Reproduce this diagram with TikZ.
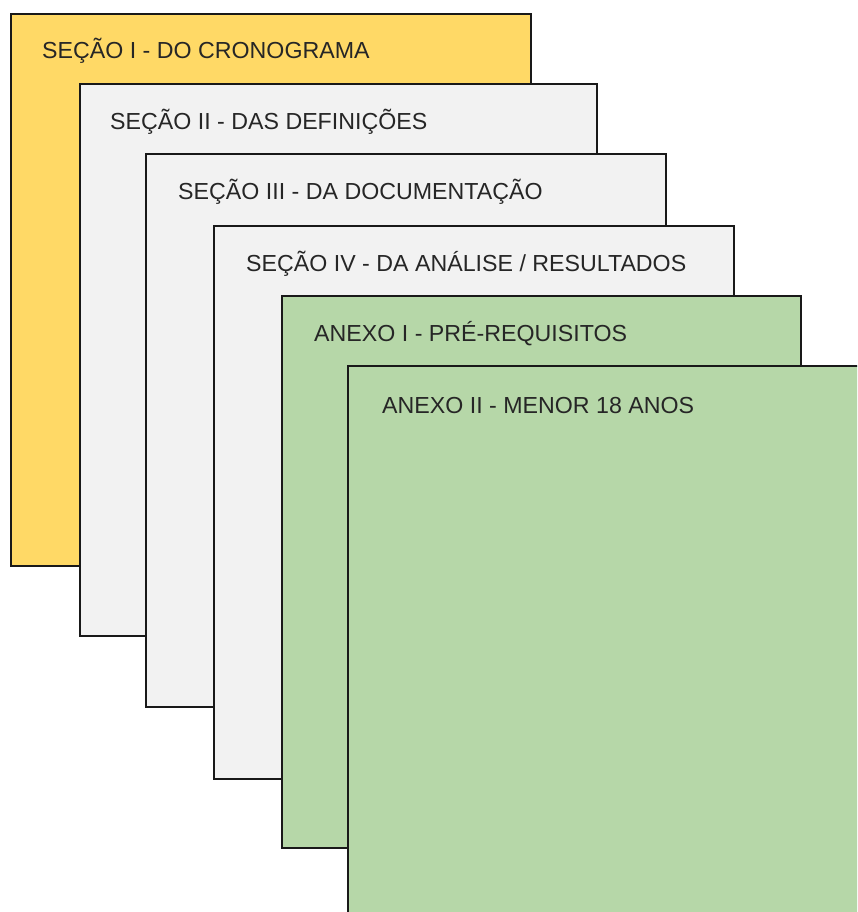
\documentclass[tikz,border=0pt]{standalone}
\usepackage{fontspec}
\setmainfont{Liberation Sans}
\definecolor{sheetyellow}{HTML}{FFD966}
\definecolor{sheetgray}{HTML}{F2F2F2}
\definecolor{sheetgreen}{HTML}{B6D7A8}
\begin{document}
\begin{tikzpicture}[x=1pt,y=-1pt,
  sheet/.style={draw=black!90, line width=1.6pt, anchor=north west, inner sep=0pt, outer sep=0pt},
  title/.style={anchor=base west, inner sep=0pt, font=\fontsize{23.2}{27}\selectfont, text=black!85}]
\useasboundingbox (0,0) rectangle (857,912);
\clip (0,0) rectangle (857,912);
\node[sheet, fill=sheetyellow, minimum width=520pt, minimum height=552pt] (s1) at (11,14) {};
\node[title] (t1) at (42,59) {SEÇÃO I - DO CRONOGRAMA};
\node[sheet, fill=sheetgray, minimum width=517pt, minimum height=552pt] (s2) at (80,84) {};
\node[title] (t2) at (110,130) {SEÇÃO II - DAS DEFINIÇÕES};
\node[sheet, fill=sheetgray, minimum width=520pt, minimum height=553pt] (s3) at (146,154) {};
\node[title] (t3) at (178,200) {SEÇÃO III - DA DOCUMENTAÇÃO};
\node[sheet, fill=sheetgray, minimum width=520pt, minimum height=553pt] (s4) at (214,226) {};
\node[title] (t4) at (246,271) {SEÇÃO IV - DA ANÁLISE / RESULTADOS};
\node[sheet, fill=sheetgreen, minimum width=519pt, minimum height=552pt] (s5) at (282,296) {};
\node[title] (t5) at (314,341) {ANEXO I - PRÉ-REQUISITOS};
\node[sheet, fill=sheetgreen, minimum width=540pt, minimum height=570pt] (s6) at (348,366) {};
\node[title] (t6) at (382,413) {ANEXO II - MENOR 18 ANOS};
\end{tikzpicture}
\end{document}
